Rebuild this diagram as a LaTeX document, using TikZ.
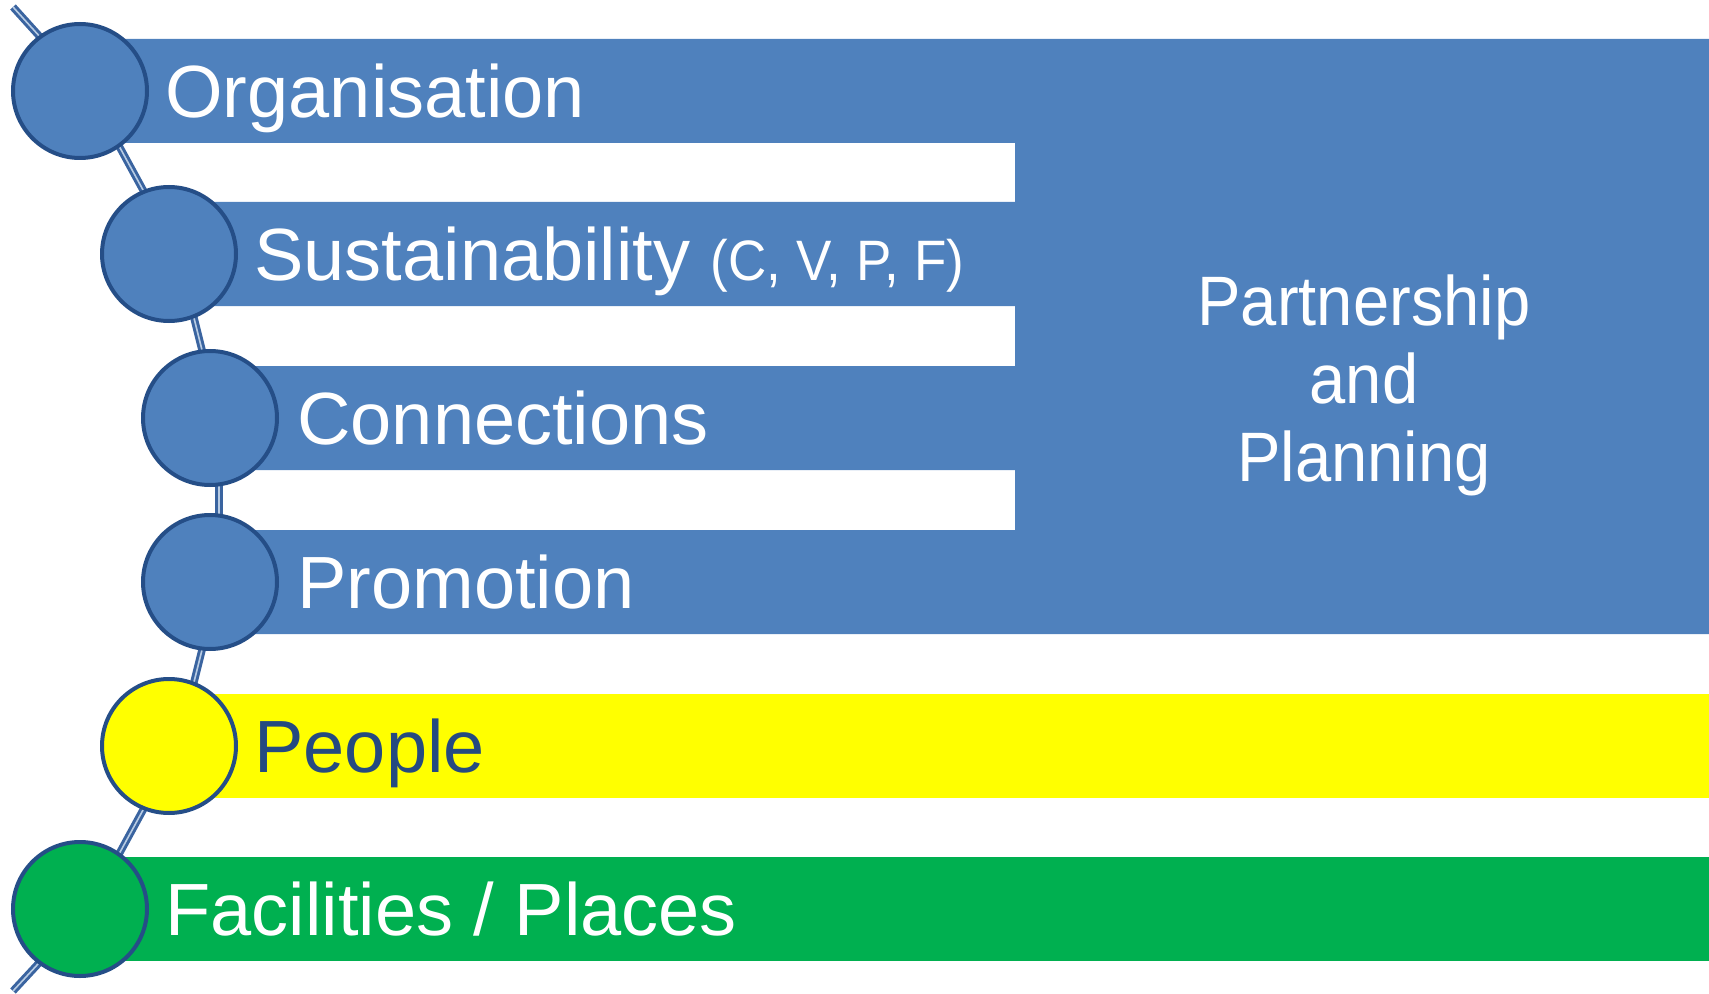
\documentclass[tikz,border=0pt]{standalone}
\usepackage{fontspec}
\setmainfont{Liberation Sans}
\newfontfamily\narrowsans[FakeStretch=0.93]{Liberation Sans}
\usetikzlibrary{positioning}

\definecolor{barblue}{HTML}{4F81BD}
\definecolor{ringblue}{HTML}{254E87}
\definecolor{darktext}{HTML}{254A80}
\definecolor{baryellow}{HTML}{FFFF00}
\definecolor{bargreen}{HTML}{00B050}
\definecolor{linkpale}{HTML}{B8CCE4}
\definecolor{linkblue}{HTML}{3A64A0}

\pgfdeclarelayer{bars}
\pgfdeclarelayer{links}
\pgfsetlayers{bars,links,main}

\begin{document}
\begin{tikzpicture}[x=0.5pt, y=0.5pt,
  dot/.style={circle, draw=ringblue, line width=2pt, minimum size=67pt, inner sep=0pt},
  tag/.style={anchor=west, inner sep=0pt, text height=26.5pt, text depth=0pt,
              text=white, font=\fontsize{37pt}{44pt}\selectfont},
  link/.style={draw=linkblue, line width=1.5pt, double=linkpale, double distance=0.8pt}]
  \useasboundingbox (0,0) rectangle (1709,993);

  \node[dot, fill=barblue]   (org) at (80,902)  {};
  \node[dot, fill=barblue]   (sus) at (169,739) {};
  \node[dot, fill=barblue]   (con) at (210,575) {};
  \node[dot, fill=barblue]   (pro) at (210,411) {};
  \node[dot, fill=baryellow] (peo) at (169,247) {};
  \node[dot, fill=bargreen]  (fac) at (80,84)   {};
  \coordinate (top)    at (13,986);
  \coordinate (bottom) at (13,2);

  \node[tag, right=8pt of org] {Organisation};
  \node[tag, right=8pt of sus] {Sustainability\ {\narrowsans\fontsize{28.5pt}{32pt}\selectfont (C, V, P, F)}};
  \node[tag, right=9pt of con] {Connections};
  \node[tag, right=9pt of pro] {Promotion};
  \node[tag, right=8pt of peo, text=darktext] {People};
  \node[tag, right=8pt of fac] {Facilities / Places};

  \node[text=white, align=center, font=\narrowsans\fontsize{35pt}{39pt}\selectfont]
    (plan) at (1364,608) {Partnership\\and\\Planning};

  % bands behind the circles
  \begin{pgfonlayer}{bars}
    \fill[barblue] (80,850) rectangle (1709,954)
                   (169,687) rectangle (1015,791)
                   (210,523) rectangle (1015,627)
                   (210,359) rectangle (1709,463)
                   (1015,359) rectangle (1709,954);
    \fill[baryellow] (169,195) rectangle (1709,299);
    \fill[bargreen]  (80,32) rectangle (1709,136);
  \end{pgfonlayer}

  % the chain runs a little right of the circle centres
  \begin{pgfonlayer}{links}
    \draw[link] (top) -- ([xshift=4.5pt]org.center) -- ([xshift=4.5pt]sus.center)
      -- ([xshift=4.5pt]con.center) -- ([xshift=4.5pt]pro.center)
      -- ([xshift=4.5pt]peo.center) -- ([xshift=4.5pt]fac.center) -- (bottom);
  \end{pgfonlayer}
\end{tikzpicture}
\end{document}
